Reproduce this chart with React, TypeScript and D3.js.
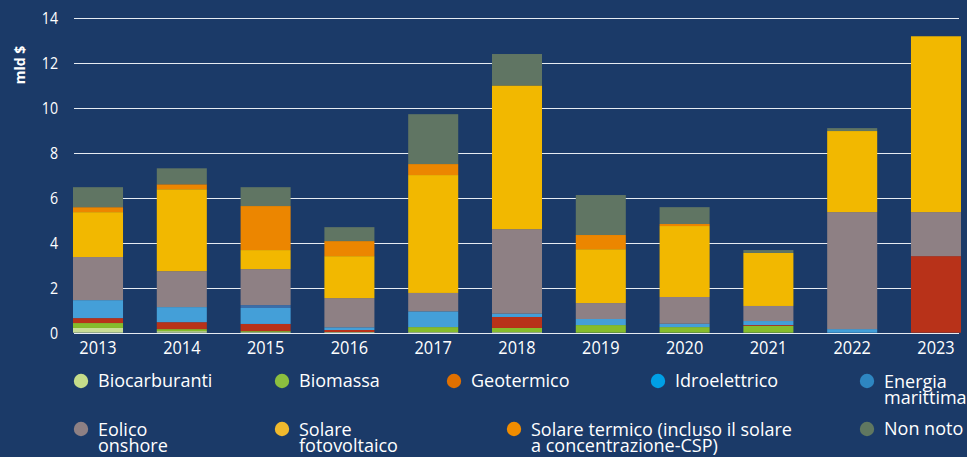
import React from "react";
import * as d3 from "d3";

const years = ["2013","2014","2015","2016","2017","2018","2019","2020","2021","2022","2023"];
const seriesNames = ["Biocarburanti","Biomassa","Geotermico","Idroelettrico","Energia marittima","Eolico onshore","Solare fotovoltaico","Solare termico","Non noto"];
const biocarburanti = [0.21,0.07,0.03,0.03,0.03,0.03,0,0,0,0,0];
const biomassa =      [0.22,0.09,0.04,0,0.22,0.18,0.34,0.25,0.30,0,0];
const geotermico =    [0.22,0.31,0.32,0.09,0,0.49,0,0,0.04,0,3.41];
const idroelettrico = [0.80,0.67,0.71,0.12,0.70,0.15,0.27,0.15,0.18,0.16,0];
const marittima =     [0,0,0.13,0,0,0,0,0,0,0,0];
const eolico =        [1.92,1.60,1.60,1.30,0.82,3.76,0.71,1.19,0.67,5.21,1.96];
const solareFv =      [2.00,3.65,0.85,1.87,5.25,6.40,2.40,3.16,2.36,3.61,7.83];
const solareTermico = [0.22,0.22,1.96,0.67,0.49,0,0.63,0.09,0,0,0];
const nonNoto =       [0.89,0.71,0.84,0.62,2.22,1.40,1.78,0.75,0.13,0.13,0];
const yTicks = [0,2,4,6,8,10,12,14];

const barColors = ["#c8dc94","#86bc2c","#b83219","#449fd8","#3b6ea8","#8e8084","#f2b800","#ec8600","#607563"];
const legendColors = ["#c5dc8a","#8cbf3f","#e07000","#00a0e6","#2e86c1","#8e8084","#f0b92d","#f08c00","#607760"];
const legendLines = [["Biocarburanti"],["Biomassa"],["Geotermico"],["Idroelettrico"],["Energia","marittima"],["Eolico","onshore"],["Solare","fotovoltaico"],["Solare termico (incluso il solare","a concentrazione-CSP)"],["Non noto"]];
const legendPos = [[81,381],[282,381],[454,381],[658,381],[867,381],[81,429],[282,429],[514,429],[867,429]];

const W = 967, H = 457;
const BG = "#1b3a68";
const FONT = "'Open Sans', 'Noto Sans', sans-serif";

export default function App() {
  const seriesData = [biocarburanti,biomassa,geotermico,idroelettrico,marittima,eolico,solareFv,solareTermico,nonNoto];
  const rows = years.map((y, i) => {
    const r: any = { year: y };
    seriesNames.forEach((s, k) => { r[s] = seriesData[k][i]; });
    return r;
  });
  const stack = d3.stack<any>().keys(seriesNames)(rows);
  const x = d3.scaleBand().domain(years).range([73, 961]).paddingInner(0.403).paddingOuter(0);
  const y = d3.scaleLinear().domain([0, 14]).range([332.7, 18.3]);

  return (
    <svg width={W} height={H} style={{ display: "block", position: "absolute", left: 0, top: 0 }} fontFamily={FONT}>
      <rect x={0} y={0} width={W} height={H} fill={BG} />
      {yTicks.map(t => (
        <g key={t}>
          <line x1={74} x2={959} y1={Math.round(y(t)) + 0.5} y2={Math.round(y(t)) + 0.5} stroke="#e6ebf2" strokeWidth={1.2} />
          <text transform={`translate(58,${y(t)}) scale(0.86,1)`} dy="0.36em" textAnchor="end" fill="#fff" fontSize={16.5}>{t}</text>
        </g>
      ))}
      {stack.map((layer, k) => (
        <g key={seriesNames[k]} fill={barColors[k]}>
          {layer.map((d, i) => {
            const h = y(d[0]) - y(d[1]);
            if (h <= 0) return null;
            return <rect key={i} x={x(years[i])} y={y(d[1])} width={x.bandwidth()} height={h} />;
          })}
        </g>
      ))}
      {years.map(yr => (
        <text key={yr} transform={`translate(${(x(yr) as number) + x.bandwidth() / 2},353.5) scale(0.86,1)`} textAnchor="middle" fill="#fff" fontSize={19}>{yr}</text>
      ))}
      <text transform="translate(25,65) rotate(-90)" textAnchor="middle" fill="#fff" fontSize={14} fontWeight="bold">mld $</text>
      {seriesNames.map((s, k) => {
        const [cx, cy] = legendPos[k];
        const lines = legendLines[k];
        const lh = 15.5;
        const y0 = lines.length === 1 ? cy : cy + 1;
        return (
          <g key={s}>
            <circle cx={cx} cy={cy} r={7.2} fill={legendColors[k]} />
            {lines.map((ln, j) => (
              <text key={j} x={cx + 17} y={y0 + j * lh} dy="0.35em" fill="#fff" fontSize={18}>{ln}</text>
            ))}
          </g>
        );
      })}
    </svg>
  );
}
